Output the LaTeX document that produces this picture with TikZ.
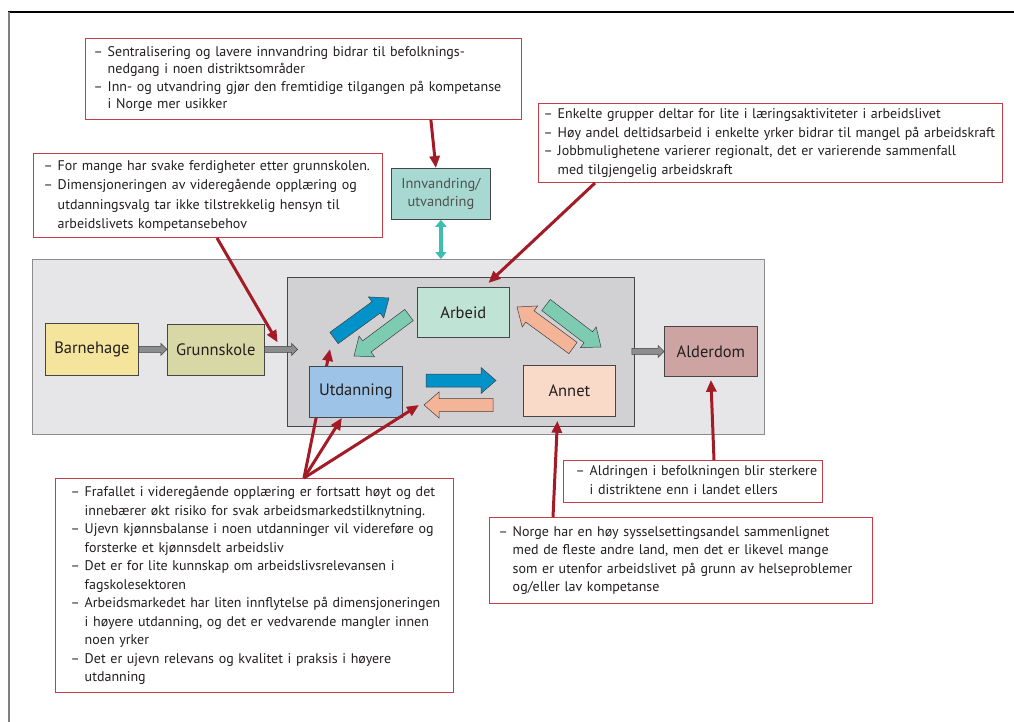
\documentclass[tikz,border=0pt]{standalone}
\usepackage{fontspec}
\setmainfont{PT Sans}
\usetikzlibrary{arrows.meta,calc,positioning}

% list with a dash and a hanging second line
\newenvironment{dashlist}{\noindent\begin{tabular}{@{}l@{\hspace{5pt}}l@{}}}{\end{tabular}}

% fat arrow: fill, tail, tip, half shaft, half head, head length
\newcommand{\fatarrow}[6]{%
  \coordinate (fa-neck) at ($(#3)!#6!(#2)$);
  \draw[blockline, fill=#1] ($(#2)!#4!90:(#3)$) -- ($(fa-neck)!#4!-90:(#2)$)
    -- ($(fa-neck)!#5!-90:(#2)$) -- (#3) -- ($(fa-neck)!#5!90:(#2)$)
    -- ($(fa-neck)!#4!90:(#2)$) -- ($(#2)!#4!-90:(#3)$) -- cycle;}

\begin{document}
\begin{tikzpicture}[x=1pt,y=-1pt,
    notebox/.style={draw=notered, line width=1pt, fill=white, anchor=north west,
      inner ysep=0pt, align=left, font=\fontsize{14}{18.5}\selectfont, text=textdark},
    stagebox/.style={draw=boxedge, line width=0.8pt, anchor=north west, inner sep=0pt,
      font=\fontsize{16.5}{19}\selectfont, text=textdark},
    redarrow/.style={draw=arrowred, line width=3pt, -{Triangle[length=12pt,width=10pt]}},
    tealarrow/.style={draw=tealline, line width=4pt,
      {Triangle[length=7pt,width=11pt]}-{Triangle[length=7pt,width=11pt]}},
    blockline/.style={draw=black!75, line width=0.5pt}]
        \definecolor{textdark}{RGB}{35,31,32}
        \definecolor{textgray}{RGB}{80,80,80}
        \definecolor{notered}{RGB}{196,62,70}
        \definecolor{arrowred}{RGB}{163,27,38}
        \definecolor{tealline}{RGB}{62,190,174}
        \definecolor{boxedge}{RGB}{70,70,70}
        \definecolor{outerfill}{RGB}{230,230,232}
        \definecolor{innerfill}{RGB}{209,209,212}
        \definecolor{barnefill}{RGB}{244,228,156}
        \definecolor{grunnfill}{RGB}{216,216,167}
        \definecolor{arbfill}{RGB}{191,227,212}
        \definecolor{utdfill}{RGB}{157,195,230}
        \definecolor{annetfill}{RGB}{249,218,201}
        \definecolor{alderfill}{RGB}{205,164,162}
        \definecolor{innvfill}{RGB}{167,216,210}
        \definecolor{bluearrow}{RGB}{0,146,201}
        \definecolor{greenarrow}{RGB}{125,203,176}
        \definecolor{salmonarrow}{RGB}{243,180,152}
        \definecolor{grayarrow}{RGB}{140,141,143}

        \useasboundingbox (0,0) rectangle (1014,722);

        % page frame
        \draw[black, line width=1.5pt] (8,12) -- (1014,12);
        \draw[black!50, line width=2pt] (9,12) -- (9,722);

        % grey frames
        \node[draw=black!45, line width=1.2pt, fill=outerfill, anchor=north west, inner sep=0pt,
              minimum width=732pt, minimum height=175pt] (outer) at (32,259) {};
        \node[draw=boxedge, line width=0.8pt, fill=innerfill, anchor=north west, inner sep=0pt,
              minimum width=347pt, minimum height=149pt] (inner) at (287,277) {};

        % comment boxes
        \node[notebox, inner xsep=8pt, text width=420pt, minimum height=81pt,
              font=\fontsize{14}{17.5}\selectfont] (topnote) at (85,38) {%
          \begin{dashlist}
          -- & Sentralisering og lavere innvandring bidrar til befolknings-\\
             & nedgang i noen distriktsområder\\
          -- & Inn- og utvandring gjør den fremtidige tilgangen på kompetanse\\
             & i Norge mer usikker
          \end{dashlist}};
        \node[notebox, inner xsep=5pt, text width=454pt, minimum height=79pt] (rnote) at (538,103) {%
          \begin{dashlist}
          -- & Enkelte grupper deltar for lite i læringsaktiviteter i arbeidslivet\\
          -- & Høy andel deltidsarbeid i enkelte yrker bidrar til mangel på arbeidskraft\\
          -- & Jobbmulighetene varierer regionalt, det er varierende sammenfall\\
             & med tilgjengelig arbeidskraft
          \end{dashlist}};
        \node[notebox, inner xsep=10pt, text width=329pt, minimum height=84pt,
              font=\fontsize{14}{19.5}\selectfont] (lnote) at (33,153) {%
          \begin{dashlist}
          -- & For mange har svake ferdigheter etter grunnskolen.\\
          -- & Dimensjoneringen av videregående opplæring og\\
             & utdanningsvalg tar ikke tilstrekkelig hensyn til\\
             & arbeidslivets kompetansebehov
          \end{dashlist}};
        \node[notebox, inner xsep=15pt, text width=368pt, minimum height=214pt] (bnote) at (55,478) {%
          \begin{dashlist}
          -- & Frafallet i videregående opplæring er fortsatt høyt og det\\
             & innebærer økt risiko for svak arbeidsmarkedstilknytning.\\
          -- & Ujevn kjønnsbalanse i noen utdanninger vil videreføre og\\
             & forsterke et kjønnsdelt arbeidsliv\\
          -- & Det er for lite kunnskap om arbeidslivsrelevansen i\\
             & fagskolesektoren\\
          -- & Arbeidsmarkedet har liten innflytelse på dimensjoneringen\\
             & i høyere utdanning, og det er vedvarende mangler innen\\
             & noen yrker\\
          -- & Det er ujevn relevans og kvalitet i praksis i høyere\\
             & utdanning
          \end{dashlist}};
        \node[notebox, inner xsep=12pt, text width=235pt, minimum height=42pt] (anote) at (563,460) {%
          \begin{dashlist}
          -- & Aldringen i befolkningen blir sterkere\\
             & i distriktene enn i landet ellers
          \end{dashlist}};
        \node[notebox, inner xsep=9pt, text width=365pt, minimum height=86pt] (nnote) at (489,517) {%
          \begin{dashlist}
          -- & Norge har en høy sysselsettingsandel sammenlignet\\
             & med de fleste andre land, men det er likevel mange\\
             & som er utenfor arbeidslivet på grunn av helseproblemer\\
             & og/eller lav kompetanse
          \end{dashlist}};

        % this one runs behind Utdanning
        \coordinate (conv) at ([xshift=249pt]bnote.north west);
        \coordinate (utd-in) at (330,349);
        \draw[redarrow] (conv) -- (utd-in);

        % stages
        \node[stagebox, fill=barnefill, minimum width=93pt, minimum height=52pt] (barnehage) at (45,323) {Barnehage};
        \node[stagebox, fill=grunnfill, minimum width=97pt, minimum height=51pt, anchor=west,
              right=28pt of barnehage] (grunnskole) {Grunnskole};
        \node[stagebox, fill=arbfill, minimum width=92pt, minimum height=50pt] (arbeid) at (417,287) {Arbeid};
        \node[stagebox, fill=utdfill, minimum width=93pt, minimum height=51pt] (utdanning) at (309,366) {Utdanning};
        \node[stagebox, fill=annetfill, minimum width=92pt, minimum height=51pt] (annet) at (523,365) {Annet};
        \node[stagebox, fill=alderfill, minimum width=93pt, minimum height=50pt] (alderdom) at (664,326) {Alderdom};
        \node[stagebox, fill=innvfill, minimum width=99pt, minimum height=51pt, align=center,
              font=\fontsize{14.4}{18.5}\selectfont, text=textgray] (innv) at (391,168) {Innvandring/\\utvandring};

        % flows between arbeid, utdanning and annet
        \coordinate (b1-tail) at (334,338);  \coordinate (b1-tip) at (389,298);
        \coordinate (g1-tail) at (409,315);  \coordinate (g1-tip) at (354,356);
        \coordinate (b2-tail) at (426,380.5); \coordinate (b2-tip) at (496,380.5);
        \coordinate (s2-tail) at (493,405);  \coordinate (s2-tip) at (424,405);
        \coordinate (s1-tail) at (573,348);  \coordinate (s1-tip) at (517,307);
        \coordinate (g2-tail) at (546,305);  \coordinate (g2-tip) at (601,347);
        \fatarrow{bluearrow}{b1-tail}{b1-tip}{7pt}{13pt}{16pt}
        \fatarrow{greenarrow}{g1-tail}{g1-tip}{7pt}{13pt}{16pt}
        \fatarrow{bluearrow}{b2-tail}{b2-tip}{6.5pt}{13pt}{15pt}
        \fatarrow{salmonarrow}{s2-tail}{s2-tip}{6.5pt}{13pt}{15pt}
        \fatarrow{salmonarrow}{s1-tail}{s1-tip}{7pt}{13pt}{16pt}
        \fatarrow{greenarrow}{g2-tail}{g2-tip}{7pt}{13pt}{16pt}

        % grey steps
        \coordinate (grunn-out) at ([xshift=33pt]grunnskole.east);
        \coordinate (inner-out) at ([xshift=-3pt]inner.east |- alderdom.west);
        \fatarrow{grayarrow}{barnehage.east}{grunnskole.west}{3pt}{6pt}{6pt}
        \fatarrow{grayarrow}{grunnskole.east}{grunn-out}{3pt}{6pt}{6pt}
        \fatarrow{grayarrow}{inner-out}{alderdom.west}{3pt}{6pt}{6pt}

        % comment arrows
        \draw[tealarrow] (innv.south) -- (innv.south |- outer.north);
        \draw[redarrow] ([xshift=-10pt]innv.north |- topnote.south) -- ([xshift=-5pt]innv.north);
        \draw[redarrow] ([xshift=57pt]rnote.south west) -- ([xshift=25pt,yshift=4pt]arbeid.north);
        \draw[redarrow] ([xshift=184pt]lnote.south west) -- ([xshift=13pt,yshift=7pt]grunnskole.east);
        \draw[redarrow] (conv) -- ([xshift=-14pt]utdanning.south);
        \draw[redarrow] (conv) -- ([xshift=-5pt]s2-tip);
        \draw[redarrow] ([xshift=64pt]nnote.north west) -- ([xshift=-12pt,yshift=-4pt]annet.south);
        \draw[redarrow] ([xshift=151pt]anote.north west) -- ([yshift=-3pt]alderdom.south);
    \end{tikzpicture}
\end{document}
